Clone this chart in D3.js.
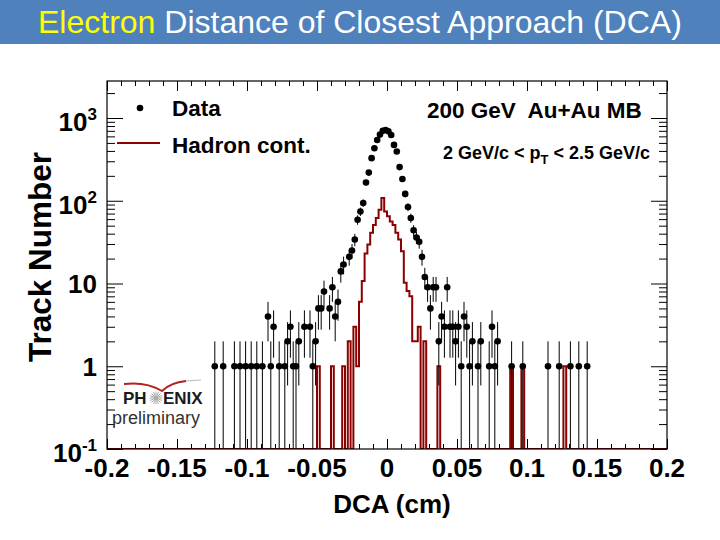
<!DOCTYPE html>
<html>
<head>
<meta charset="utf-8">
<script src="https://cdn.jsdelivr.net/npm/d3@7"></script>
<style>
  body { margin: 0; background: #fff; }
  text { font-family: "Liberation Sans", Arial, sans-serif; }
</style>
</head>
<body>
<div id="chart"></div>
<script>
// electron candidates, DCA bin centres (cm) and counts
var dataDCA = [-0.123, -0.117, -0.109, -0.105, -0.101, -0.097, -0.093, -0.089, -0.085, -0.083,
               -0.081, -0.077, -0.073, -0.071, -0.069, -0.067, -0.065, -0.063, -0.059, -0.055,
               -0.053, -0.051, -0.049, -0.047, -0.045, -0.041, -0.039, -0.037, -0.035, -0.033,
               -0.031, -0.027, -0.025, -0.023, -0.021, -0.019, -0.017, -0.015, -0.013, -0.011,
               -0.009, -0.007, -0.005, -0.003, -0.001, 0.001, 0.003, 0.005, 0.007, 0.009,
               0.011, 0.013, 0.015, 0.017, 0.019, 0.021, 0.023, 0.025, 0.027, 0.029,
               0.031, 0.033, 0.035, 0.037, 0.039, 0.041, 0.043, 0.045, 0.047, 0.049,
               0.051, 0.053, 0.055, 0.057, 0.059, 0.061, 0.065, 0.067, 0.073, 0.075,
               0.077, 0.079, 0.089, 0.097, 0.115, 0.123, 0.131, 0.137, 0.143];
var dataCounts = [1, 1, 1, 1, 1, 1, 1, 1, 4, 1,
                  3, 1, 1, 2, 3, 1, 1, 2, 3, 3,
                  1, 2, 5, 5, 8, 5, 9, 4, 6, 14,
                  17, 21, 25, 34, 59, 74, 94, 166, 219, 327,
                  431, 543, 630, 700, 717, 690, 624, 473, 393, 255,
                  183, 121, 84, 62, 44, 36, 32, 21, 12, 9,
                  5, 9, 9, 2, 4, 3, 9, 3, 3, 2,
                  3, 1, 4, 3, 1, 2, 1, 2, 1, 3,
                  1, 2, 1, 1, 1, 1, 1, 1, 1];

// hadron contamination histogram, non-empty bins only
var hadronDCA = [-0.049, -0.039, -0.031, -0.027, -0.023, -0.021, -0.019, -0.017, -0.015, -0.013,
                 -0.011, -0.009, -0.007, -0.005, -0.003, -0.001, 0.001, 0.003, 0.005, 0.007,
                 0.009, 0.011, 0.013, 0.015, 0.017, 0.019, 0.021, 0.023, 0.027, 0.037,
                 0.089, 0.097, 0.127];
var hadronCounts = [1, 1, 1, 2, 3, 1, 6, 10.7, 23, 29.5,
                    41, 51, 62, 78, 108, 74, 65, 56, 51, 41,
                    34, 24.5, 10.2, 8.1, 7, 2, 2, 3, 2, 1,
                    1, 1, 1];

var xTicks = [-0.2, -0.15, -0.1, -0.05, 0, 0.05, 0.1, 0.15, 0.2];
var xTickLabels = ["-0.2", "-0.15", "-0.1", "-0.05", "0", "0.05", "0.1", "0.15", "0.2"];
var yTicks = [0.1, 1, 10, 100, 1000];
var yTickBase = ["10", "1", "10", "10", "10"];
var yTickExp = ["-1", "", "", "2", "3"];

var nBins = 200, binW = 0.002;

var W = 720, H = 540;
var frame = {left: 107, right: 667, top: 81, bottom: 449};

var svg = d3.select("#chart").append("svg")
    .attr("width", W)
    .attr("height", H);

// title bar
svg.append("rect")
    .attr("x", 0).attr("y", 0)
    .attr("width", W).attr("height", 44)
    .attr("fill", "#4f81bd");

var title = svg.append("text")
    .attr("x", 38).attr("y", 33)
    .style("font-size", "32px")
    .attr("fill", "#fff");
title.append("tspan").attr("fill", "#ffff00").text("Electron");
title.append("tspan").text(" Distance of Closest Approach (DCA)");

var x = d3.scaleLinear().domain([-0.2, 0.2]).range([frame.left, frame.right]);
var y = d3.scaleLog().domain([0.1, 2800]).range([frame.bottom, frame.top]);

svg.append("clipPath").attr("id", "plotclip")
  .append("rect")
    .attr("x", frame.left).attr("y", frame.top)
    .attr("width", frame.right - frame.left)
    .attr("height", frame.bottom - frame.top);

// ticks (ROOT style, pointing inwards)
var minorX = d3.range(-20, 21).map(function(k) { return k / 100; });
var minorY = [];
[0.1, 1, 10, 100, 1000].forEach(function(dec) {
    for (var m = 2; m <= 9; m++) {
        if (dec * m < 2800) minorY.push(dec * m);
    }
});

function noDomain(g) { g.select(".domain").remove(); }

svg.append("g").attr("transform", "translate(0," + frame.bottom + ")")
    .call(d3.axisBottom(x).tickValues(minorX).tickSize(-5).tickFormat("")).call(noDomain);
svg.append("g").attr("transform", "translate(0," + frame.bottom + ")")
    .call(d3.axisBottom(x).tickValues(xTicks).tickSize(-10).tickFormat("")).call(noDomain);
svg.append("g").attr("transform", "translate(0," + frame.top + ")")
    .call(d3.axisTop(x).tickValues(minorX).tickSize(-5).tickFormat("")).call(noDomain);
svg.append("g").attr("transform", "translate(0," + frame.top + ")")
    .call(d3.axisTop(x).tickValues(xTicks).tickSize(-10).tickFormat("")).call(noDomain);

svg.append("g").attr("transform", "translate(" + frame.left + ",0)")
    .call(d3.axisLeft(y).tickValues(minorY).tickSize(-8).tickFormat("")).call(noDomain);
svg.append("g").attr("transform", "translate(" + frame.left + ",0)")
    .call(d3.axisLeft(y).tickValues(yTicks).tickSize(-16).tickFormat("")).call(noDomain);
svg.append("g").attr("transform", "translate(" + frame.right + ",0)")
    .call(d3.axisRight(y).tickValues(minorY).tickSize(-8).tickFormat("")).call(noDomain);
svg.append("g").attr("transform", "translate(" + frame.right + ",0)")
    .call(d3.axisRight(y).tickValues(yTicks).tickSize(-16).tickFormat("")).call(noDomain);

svg.selectAll(".tick line").attr("stroke", "#000").attr("stroke-width", 1);

// tick labels
svg.selectAll(".xlab")
    .data(xTicks)
    .enter()
    .append("text")
        .attr("class", "xlab")
        .attr("x", function(d) { return x(d); })
        .attr("y", frame.bottom + 28)
        .attr("text-anchor", "middle")
        .style("font-size", "26px")
        .style("font-weight", "bold")
        .text(function(d, i) { return xTickLabels[i]; });

var ylab = svg.selectAll(".ylab")
    .data(yTicks)
    .enter()
    .append("text")
        .attr("class", "ylab")
        .attr("x", frame.left - 10)
        .attr("y", function(d, i) { return y(d) + (yTickExp[i] ? 13 : 9.5); })
        .attr("text-anchor", "end")
        .style("font-size", "26px")
        .style("font-weight", "bold");
ylab.append("tspan").text(function(d, i) { return yTickBase[i]; });
ylab.append("tspan")
    .attr("dy", -11)
    .style("font-size", "17px")
    .text(function(d, i) { return yTickExp[i]; });

// axis titles
svg.append("text")
    .attr("x", 392).attr("y", 513)
    .attr("text-anchor", "middle")
    .style("font-size", "26px")
    .style("font-weight", "bold")
    .text("DCA (cm)");

svg.append("text")
    .attr("transform", "translate(51,257) rotate(-90)")
    .attr("text-anchor", "middle")
    .style("font-size", "31.5px")
    .style("font-weight", "bold")
    .text("Track Number");

var plot = svg.append("g").attr("clip-path", "url(#plotclip)");

// hadron histogram as a step outline, empty bins sit on the floor
var hadronFull = new Array(nBins).fill(0);
hadronDCA.forEach(function(d, k) {
    var i = Math.round((d + 0.2) / binW - 0.5);
    hadronFull[i] = hadronCounts[k];
});
var stepPts = [];
hadronFull.forEach(function(v, i) {
    var lo = -0.2 + i * binW, hi = lo + binW;
    var yy = v > 0 ? y(v) : frame.bottom;
    stepPts.push([x(lo), yy]);
    stepPts.push([x(hi), yy]);
});
plot.append("path")
    .attr("d", d3.line()(stepPts))
    .attr("fill", "none")
    .attr("stroke", "#8b0000")
    .attr("stroke-width", 2);

// data points with sqrt(N) error bars
var pts = dataDCA.map(function(d, i) { return {dca: d, n: dataCounts[i]}; });

plot.selectAll(".err")
    .data(pts)
    .enter()
    .append("line")
        .attr("class", "err")
        .attr("x1", function(d) { return x(d.dca); })
        .attr("x2", function(d) { return x(d.dca); })
        .attr("y1", function(d) { return y(d.n + Math.sqrt(d.n)); })
        .attr("y2", function(d) {
            var lo = d.n - Math.sqrt(d.n);
            return lo > 0.1 ? y(lo) : frame.bottom;
        })
        .attr("stroke", "#000")
        .attr("stroke-width", 1);

plot.selectAll(".dot")
    .data(pts)
    .enter()
    .append("circle")
        .attr("class", "dot")
        .attr("r", 3.3)
        .attr("cx", function(d) { return x(d.dca); })
        .attr("cy", function(d) { return y(d.n); })
        .attr("fill", "#000");

// frame
svg.append("rect")
    .attr("x", frame.left).attr("y", frame.top)
    .attr("width", frame.right - frame.left)
    .attr("height", frame.bottom - frame.top)
    .attr("fill", "none")
    .attr("stroke", "#000")
    .attr("stroke-width", 1.2);

// legend
svg.append("circle").attr("cx", 140).attr("cy", 108).attr("r", 3.3).attr("fill", "#000");
svg.append("line")
    .attr("x1", 117).attr("x2", 160).attr("y1", 143).attr("y2", 143)
    .attr("stroke", "#8b0000").attr("stroke-width", 2);
svg.append("text").attr("x", 172).attr("y", 116)
    .style("font-size", "22.5px").style("font-weight", "bold").text("Data");
svg.append("text").attr("x", 172).attr("y", 153)
    .style("font-size", "22.5px").style("font-weight", "bold").text("Hadron cont.");

svg.append("text").attr("x", 427).attr("y", 118)
    .style("font-size", "22.5px").style("font-weight", "bold")
    .style("white-space", "pre")
    .text("200 GeV  Au+Au MB");

var pt = svg.append("text").attr("x", 443).attr("y", 159)
    .style("font-size", "18px").style("font-weight", "bold");
pt.append("tspan").text("2 GeV/c < p");
pt.append("tspan").attr("dy", 5).style("font-size", "13px").text("T");
pt.append("tspan").attr("dy", -5).text(" < 2.5 GeV/c");

// PHENIX preliminary tag
var logo = svg.append("g");
logo.append("path")
    .attr("d", "M124,384 C140,382 152,385 162,391 C168,385 176,382 186,381")
    .attr("fill", "none").attr("stroke", "#b22222").attr("stroke-width", 2);
logo.append("path")
    .attr("d", "M186,381 L201,380")
    .attr("fill", "none").attr("stroke", "#bbb").attr("stroke-width", 1);
logo.append("text").attr("x", 123).attr("y", 404)
    .style("font-size", "17px").style("font-weight", "bold").attr("fill", "#1a1a1a").text("PH");
logo.append("text").attr("x", 163).attr("y", 404)
    .style("font-size", "17px").style("font-weight", "bold").attr("fill", "#1a1a1a").text("ENIX");
d3.range(0, 180, 22.5).forEach(function(a) {
    var r = a * Math.PI / 180;
    logo.append("line")
        .attr("x1", 156 - 6.5 * Math.cos(r)).attr("y1", 398 - 6.5 * Math.sin(r))
        .attr("x2", 156 + 6.5 * Math.cos(r)).attr("y2", 398 + 6.5 * Math.sin(r))
        .attr("stroke", "#aaa").attr("stroke-width", 1);
});
logo.append("text").attr("x", 112).attr("y", 424)
    .style("font-size", "18px").attr("fill", "#333").text("preliminary");
</script>
</body>
</html>
